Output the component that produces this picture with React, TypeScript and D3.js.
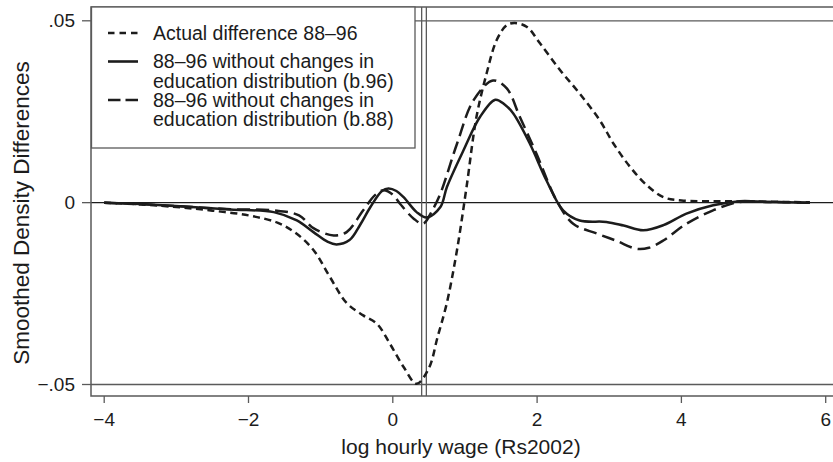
import { useEffect, useRef } from 'react';
import * as d3 from 'd3';

// log hourly wage grid points and smoothed density differences
const actualWage = [-4, -3.5, -3, -2.5, -2, -1.6, -1.35, -1.1, -0.87, -0.64, -0.41, -0.22, -0.04, 0.15, 0.33, 0.5, 0.62, 0.75, 0.89, 1.02, 1.16, 1.3, 1.44, 1.58, 1.69, 1.86, 2.04, 2.32, 2.59, 2.87, 3.06, 3.29, 3.52, 3.75, 4.0, 4.5, 5.0, 5.78];
const actualDiff = [0, -0.0005, -0.0012, -0.0022, -0.0035, -0.0055, -0.0083, -0.013, -0.0205, -0.0276, -0.031, -0.0333, -0.0388, -0.0452, -0.0498, -0.0455, -0.037, -0.0275, -0.013, 0.004, 0.0236, 0.0355, 0.0447, 0.0488, 0.0494, 0.0483, 0.0438, 0.0364, 0.03, 0.0226, 0.0162, 0.0098, 0.0048, 0.0015, 0.0006, 0.0004, 0.0003, 0.0001];

const b96Wage = [-4, -3.5, -2.95, -2.25, -1.65, -1.33, -1.1, -0.9, -0.78, -0.6, -0.45, -0.31, -0.15, -0.06, 0.05, 0.15, 0.33, 0.47, 0.66, 0.75, 0.98, 1.21, 1.42, 1.55, 1.67, 1.9, 2.13, 2.36, 2.59, 2.96, 3.2, 3.47, 3.75, 4.07, 4.44, 4.81, 5.2, 5.78];
const b96Diff = [0, -0.0004, -0.001, -0.0019, -0.0026, -0.0049, -0.0081, -0.0108, -0.0115, -0.0103, -0.006, -0.0012, 0.0032, 0.0039, 0.0032, 0.0015, -0.0026, -0.0041, -0.0012, 0.0043, 0.0144, 0.0236, 0.0283, 0.027, 0.0245, 0.0162, 0.0061, -0.0021, -0.0049, -0.0053, -0.0063, -0.0076, -0.0062, -0.003, -0.0007, 0.0004, 0.0002, 0];

const b88Wage = [-4, -3.5, -2.95, -2.25, -1.65, -1.3, -1.1, -0.82, -0.64, -0.41, -0.25, -0.13, 0.0, 0.1, 0.29, 0.42, 0.55, 0.66, 0.89, 1.12, 1.39, 1.58, 1.76, 1.99, 2.27, 2.5, 2.83, 3.1, 3.38, 3.55, 3.75, 4.07, 4.44, 4.81, 5.2, 5.78];
const b88Diff = [0, -0.0004, -0.001, -0.0018, -0.0021, -0.0035, -0.007, -0.009, -0.0081, -0.0021, 0.002, 0.0034, 0.0022, -0.0003, -0.0044, -0.0058, -0.002, 0.0025, 0.0162, 0.0282, 0.0336, 0.0314, 0.0236, 0.0135, 0.0006, -0.0058, -0.0085, -0.0105, -0.0127, -0.0124, -0.0104, -0.0058, -0.0021, 0.0002, 0.0002, 0];

const xTicks = [-4, -2, 0, 2, 4, 6];
const yTicks = [-0.05, 0, 0.05];
const yTickLabels = ['\u2212.05', '0', '.05'];
const refLines = [0.4, 0.465];

const legendItems = [
  { lines: ['Actual difference 88\u201396'], dash: '6.5,5' },
  { lines: ['88\u201396 without changes in', 'education distribution (b.96)'], dash: null },
  { lines: ['88\u201396 without changes in', 'education distribution (b.88)'], dash: '12.5,5' },
];

const App = () => {
  const svgRef = useRef<SVGSVGElement>(null);

  useEffect(() => {
    const width = 833;
    const height = 462;
    const frame = { left: 91, right: 840, top: 7, bottom: 396 };
    const font = '"Liberation Sans", Arial, Helvetica, sans-serif';
    const ink = '#1c1c1c';
    const gray = '#5a5a5a';

    const svg = d3.select(svgRef.current);
    svg.selectAll('*').remove();
    svg.attr('width', width).attr('height', height);

    const x = d3.scaleLinear().domain([-4, 6]).range([104.2, 825.7]);
    const y = d3.scaleLinear().domain([-0.05, 0.05]).range([384.5, 20.8]);

    // horizontal reference lines
    svg.append('g')
      .selectAll('line')
      .data(yTicks)
      .join('line')
      .attr('x1', frame.left).attr('x2', frame.right)
      .attr('y1', d => y(d)).attr('y2', d => y(d))
      .attr('stroke', d => (d === 0 ? ink : gray))
      .attr('stroke-width', 1.3);

    // vertical reference lines
    svg.append('g')
      .selectAll('line')
      .data(refLines)
      .join('line')
      .attr('x1', d => x(d)).attr('x2', d => x(d))
      .attr('y1', frame.top).attr('y2', frame.bottom)
      .attr('stroke', gray)
      .attr('stroke-width', 1.3);

    const line = d3.line<[number, number]>()
      .x(d => x(d[0]))
      .y(d => y(d[1]))
      .curve(d3.curveCatmullRom.alpha(0.5));

    const series = [
      { w: actualWage, v: actualDiff, dash: '7,4.5' },
      { w: b96Wage, v: b96Diff, dash: null },
      { w: b88Wage, v: b88Diff, dash: '13,6' },
    ];

    svg.append('g')
      .selectAll('path')
      .data(series)
      .join('path')
      .attr('d', s => line(s.w.map((w, i) => [w, s.v[i]] as [number, number])))
      .attr('fill', 'none')
      .attr('stroke', ink)
      .attr('stroke-width', 2.5)
      .attr('stroke-dasharray', s => s.dash);

    // frame
    svg.append('path')
      .attr('d', `M${frame.right},${frame.top}H${frame.left}V${frame.bottom}H${frame.right}`)
      .attr('fill', 'none')
      .attr('stroke', gray)
      .attr('stroke-width', 1.5);

    // x axis
    const xg = svg.append('g');
    xg.selectAll('line')
      .data(xTicks)
      .join('line')
      .attr('x1', d => x(d)).attr('x2', d => x(d))
      .attr('y1', frame.bottom).attr('y2', frame.bottom + 7)
      .attr('stroke', gray).attr('stroke-width', 1.3);
    xg.selectAll('text')
      .data(xTicks)
      .join('text')
      .attr('x', d => x(d))
      .attr('y', 426)
      .attr('text-anchor', 'middle')
      .attr('font-family', font)
      .attr('font-size', 19)
      .attr('fill', ink)
      .text(d => (d < 0 ? '\u2212' + Math.abs(d) : String(d)));

    // y axis
    const yg = svg.append('g');
    yg.selectAll('line')
      .data(yTicks)
      .join('line')
      .attr('x1', frame.left - 9).attr('x2', frame.left)
      .attr('y1', d => y(d)).attr('y2', d => y(d))
      .attr('stroke', gray).attr('stroke-width', 1.3);
    yg.selectAll('text')
      .data(yTicks)
      .join('text')
      .attr('x', 75)
      .attr('y', d => y(d) + 6.5)
      .attr('text-anchor', 'end')
      .attr('font-family', font)
      .attr('font-size', 19)
      .attr('fill', ink)
      .text((d, i) => yTickLabels[i]);

    // titles
    svg.append('text')
      .attr('x', 461)
      .attr('y', 454)
      .attr('text-anchor', 'middle')
      .attr('font-family', font)
      .attr('font-size', 21)
      .attr('fill', ink)
      .text('log hourly wage (Rs2002)');

    svg.append('text')
      .attr('transform', 'translate(28.5,213) rotate(-90)')
      .attr('text-anchor', 'middle')
      .attr('font-family', font)
      .attr('font-size', 22.5)
      .attr('fill', ink)
      .text('Smoothed Density Differences');

    // legend
    const lg = svg.append('g');
    lg.append('rect')
      .attr('x', 91.5).attr('y', 7)
      .attr('width', 323.5).attr('height', 141)
      .attr('fill', '#fff')
      .attr('stroke', gray)
      .attr('stroke-width', 1.3);

    const rowY = [33, 61.5, 100];
    legendItems.forEach((item, i) => {
      lg.append('line')
        .attr('x1', 108).attr('x2', 138)
        .attr('y1', rowY[i]).attr('y2', rowY[i])
        .attr('stroke', ink)
        .attr('stroke-width', 2.6)
        .attr('stroke-dasharray', item.dash);
      item.lines.forEach((t, j) => {
        lg.append('text')
          .attr('x', 153)
          .attr('y', rowY[i] + 6.8 + j * 19.5)
          .attr('font-family', font)
          .attr('font-size', 19.5)
          .attr('fill', ink)
          .text(t);
      });
    });
  }, []);

  return <svg ref={svgRef} style={{ position: 'absolute', left: 0, top: 0 }}></svg>;
};

export default App;
